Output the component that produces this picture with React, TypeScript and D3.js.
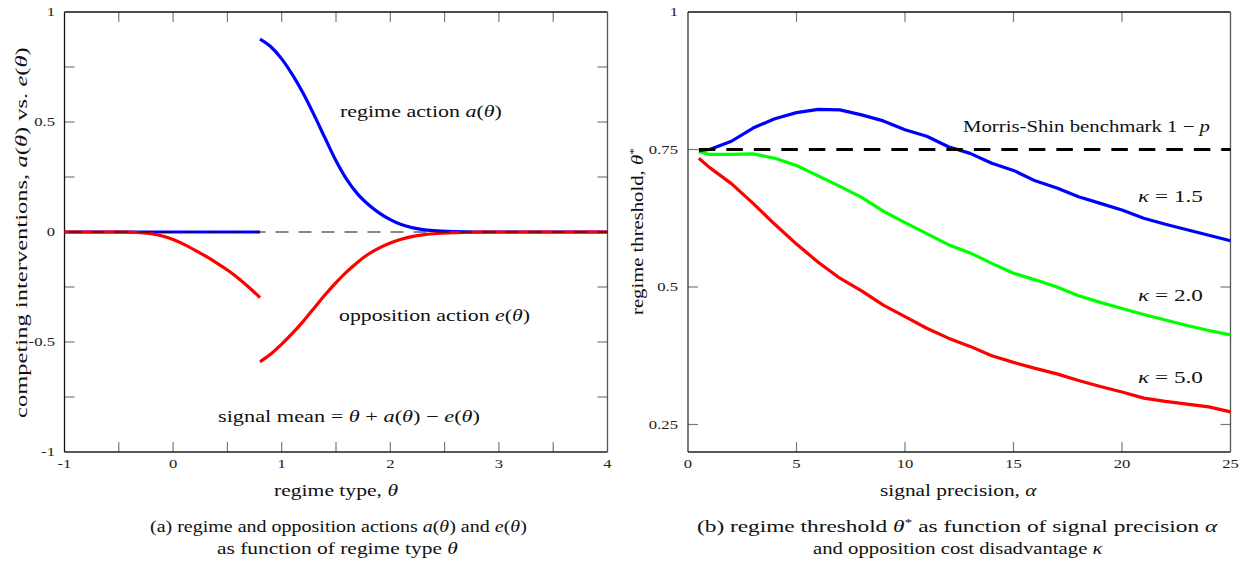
import React, { useRef, useState, useLayoutEffect } from "react";
import * as d3 from "d3";

// ---------- data: panel (a) ----------
const thetaPre = [-1, -0.9, -0.8, -0.7, -0.6, -0.5, -0.4, -0.3, -0.2, -0.1, 0, 0.1, 0.2, 0.3, 0.4, 0.5, 0.6, 0.7, 0.8];
const aPre = [0, 0, 0, 0, 0, 0, 0, 0, 0, 0, 0, 0, 0, 0, 0, 0, 0, 0, 0];
const ePre = [0, 0, 0, 0, 0, 0, -0.001, -0.003, -0.008, -0.018, -0.034, -0.056, -0.082, -0.11, -0.14, -0.173, -0.21, -0.252, -0.298];

const thetaPost = [0.8, 0.9, 1.0, 1.1, 1.2, 1.3, 1.4, 1.5, 1.6, 1.7, 1.8, 1.9, 2.0, 2.1, 2.2, 2.3, 2.4, 2.6, 2.8, 3.0, 4.0];
const aPost = [0.877, 0.842, 0.787, 0.714, 0.628, 0.53, 0.426, 0.324, 0.238, 0.172, 0.124, 0.086, 0.056, 0.034, 0.02, 0.011, 0.006, 0.0015, 0, 0, 0];
const ePost = [-0.59, -0.555, -0.51, -0.46, -0.405, -0.345, -0.285, -0.23, -0.18, -0.137, -0.1, -0.072, -0.05, -0.033, -0.021, -0.013, -0.008, -0.003, -0.001, 0, 0];

const thetaTicks = [-1, -0.5, 0, 0.5, 1, 1.5, 2, 2.5, 3, 3.5, 4];
const thetaLabels = [-1, 0, 1, 2, 3, 4];
const actTicks = [-1, -0.75, -0.5, -0.25, 0, 0.25, 0.5, 0.75, 1];
const actLabels = ["-1", "-0.5", "0", "0.5", "1"];

// ---------- data: panel (b) ----------
const alpha = [0.5, 1, 2, 3, 4, 5, 6, 7, 8, 9, 10, 11, 12, 13, 14, 15, 16, 17, 18, 19, 20, 21, 22, 23, 24, 25];
const kappa15 = [0.748, 0.75, 0.765, 0.789, 0.806, 0.817, 0.823, 0.822, 0.813, 0.802, 0.786, 0.774, 0.755, 0.743, 0.725, 0.712, 0.693, 0.68, 0.664, 0.652, 0.64, 0.625, 0.614, 0.604, 0.594, 0.584];
const kappa20 = [0.746, 0.741, 0.741, 0.742, 0.734, 0.721, 0.702, 0.683, 0.663, 0.638, 0.617, 0.597, 0.577, 0.562, 0.543, 0.525, 0.513, 0.5, 0.484, 0.472, 0.461, 0.45, 0.44, 0.43, 0.421, 0.413];
const kappa50 = [0.734, 0.717, 0.688, 0.652, 0.614, 0.578, 0.545, 0.516, 0.493, 0.467, 0.446, 0.425, 0.407, 0.392, 0.375, 0.363, 0.352, 0.342, 0.33, 0.319, 0.309, 0.298, 0.292, 0.287, 0.282, 0.273];
const benchmark = 0.75;
const alphaTicks = [5, 10, 15, 20];
const alphaLabels = [0, 5, 10, 15, 20, 25];
const threshTicks = [0.25, 0.5, 0.75];
const threshLabels = ["0.25", "0.5", "0.75", "1"];

const FONT = "Liberation Serif, DejaVu Serif, serif";

function FitText({ x, y, w, rot = 0, size = 16, children }: any) {
  const ref = useRef<SVGTextElement>(null);
  const [s, setS] = useState(1);
  useLayoutEffect(() => {
    if (ref.current) {
      const bw = ref.current.getBBox().width;
      if (bw > 0) setS(w / bw);
    }
  }, []);
  return (
    <g transform={`translate(${x},${y}) rotate(${rot}) scale(${s},1)`}>
      <text ref={ref} x={0} y={0} textAnchor="start" fontSize={size} style={{ fontFamily: FONT }} fill="#111">
        {children}
      </text>
    </g>
  );
}

const I = ({ children }: any) => <tspan fontStyle="italic">{children}</tspan>;

const TICK = "#7a7a7a";
const TL = 10;

export default function App() {
  // panel (a)
  const ax = d3.scaleLinear().domain([-1, 4]).range([64.5, 607.5]);
  const ay = d3.scaleLinear().domain([-1, 1]).range([452, 12]);
  const aLine = d3.line<[number, number]>().x((d) => ax(d[0])).y((d) => ay(d[1])).curve(d3.curveMonotoneX);
  const zip = (xs: number[], ys: number[]) => xs.map((v, i) => [v, ys[i]] as [number, number]);

  // panel (b)
  const bx = d3.scaleLinear().domain([0, 25]).range([688, 1230.5]);
  const by = d3.scaleLinear().domain([0.2, 1]).range([452, 12]);
  const bLine = d3.line<[number, number]>().x((d) => bx(d[0])).y((d) => by(d[1]));

  const tickLabel = (x: number, y: number, t: string, anchor: string) => (
    <g key={`${x}-${y}-${t}`} transform={`translate(${x},${y}) scale(1.45,1)`}>
      <text textAnchor={anchor as any} fontSize={11.5} style={{ fontFamily: FONT }} fill="#222">{t}</text>
    </g>
  );

  return (
    <svg width={1242} height={565} style={{ position: "absolute", left: 0, top: 0, background: "#fff" }}>
      {/* ===== Panel (a) ===== */}
      <g>
        {thetaTicks.filter((t) => t > -1 && t < 4).map((t) => (
          <g key={"atx" + t} stroke={TICK} strokeWidth={1.2}>
            <line x1={ax(t)} x2={ax(t)} y1={ay(-1)} y2={ay(-1) - TL} />
            <line x1={ax(t)} x2={ax(t)} y1={ay(1)} y2={ay(1) + TL} />
          </g>
        ))}
        {actTicks.filter((t) => t > -1 && t < 1).map((t) => (
          <g key={"aty" + t} stroke={TICK} strokeWidth={1.2}>
            <line x1={ax(-1)} x2={ax(-1) + TL} y1={ay(t)} y2={ay(t)} />
            <line x1={ax(4)} x2={ax(4) - TL} y1={ay(t)} y2={ay(t)} />
          </g>
        ))}
        <line x1={ax(-1)} x2={ax(4)} y1={ay(1)} y2={ay(1)} stroke="#111" strokeWidth={1.3} />
        <line x1={ax(-1)} x2={ax(4)} y1={ay(-1)} y2={ay(-1)} stroke="#222" strokeWidth={1.3} />
        <line x1={ax(-1)} x2={ax(-1)} y1={ay(1)} y2={ay(-1)} stroke="#111" strokeWidth={1.3} />
        <line x1={ax(4)} x2={ax(4)} y1={ay(1)} y2={ay(-1)} stroke="#555" strokeWidth={1.3} />

        <path d={aLine(zip(thetaPre, aPre)) || ""} fill="none" stroke="#0000ff" strokeWidth={3.2} />
        <path d={aLine(zip(thetaPost, aPost)) || ""} fill="none" stroke="#0000ff" strokeWidth={3.2} />
        <path d={aLine(zip(thetaPre, ePre)) || ""} fill="none" stroke="#ff0000" strokeWidth={3.2} />
        <path d={aLine(zip(thetaPost, ePost)) || ""} fill="none" stroke="#ff0000" strokeWidth={3.2} />
        <line x1={ax(-1)} x2={ax(4)} y1={ay(0)} y2={ay(0)} stroke="#111" strokeWidth={1.2} strokeDasharray="13 10" strokeDashoffset={-4} />

        {thetaLabels.map((t) => tickLabel(ax(t), 468, String(t), "middle"))}
        {actLabels.map((t) => tickLabel(55, ay(+t) + 4, t, "end"))}

        <FitText x={340} y={117} w={162} size={16.5}>regime action <I>a</I>(<I>θ</I>)</FitText>
        <FitText x={339} y={321} w={191} size={16.5}>opposition action <I>e</I>(<I>θ</I>)</FitText>
        <FitText x={218} y={422} w={262} size={16.5}>signal mean = <I>θ</I> + <I>a</I>(<I>θ</I>) − <I>e</I>(<I>θ</I>)</FitText>

        <FitText x={274} y={496} w={124} size={16.5}>regime type, <I>θ</I></FitText>
        <FitText x={26.5} y={418} w={371} rot={-90} size={16.5}>competing interventions, <I>a</I>(<I>θ</I>) vs. <I>e</I>(<I>θ</I>)</FitText>

        <FitText x={150} y={532} w={377} size={16.5}>(a) regime and opposition actions <I>a</I>(<I>θ</I>) and <I>e</I>(<I>θ</I>)</FitText>
        <FitText x={217} y={554} w={241} size={16.5}>as function of regime type <I>θ</I></FitText>
      </g>

      {/* ===== Panel (b) ===== */}
      <g>
        {alphaTicks.map((t) => (
          <g key={"btx" + t} stroke={TICK} strokeWidth={1.2}>
            <line x1={bx(t)} x2={bx(t)} y1={by(0.2)} y2={by(0.2) - TL} />
            <line x1={bx(t)} x2={bx(t)} y1={by(1)} y2={by(1) + TL} />
          </g>
        ))}
        {threshTicks.map((t) => (
          <g key={"bty" + t} stroke={TICK} strokeWidth={1.2}>
            <line x1={bx(0)} x2={bx(0) + TL} y1={by(t)} y2={by(t)} />
            <line x1={bx(25)} x2={bx(25) - TL} y1={by(t)} y2={by(t)} />
          </g>
        ))}
        <line x1={bx(0)} x2={bx(25)} y1={by(1)} y2={by(1)} stroke="#111" strokeWidth={1.3} />
        <line x1={bx(0)} x2={bx(25)} y1={by(0.2)} y2={by(0.2)} stroke="#222" strokeWidth={1.3} />
        <line x1={bx(0)} x2={bx(0)} y1={by(1)} y2={by(0.2)} stroke="#333" strokeWidth={1.3} />
        <line x1={bx(25)} x2={bx(25)} y1={by(1)} y2={by(0.2)} stroke="#555" strokeWidth={1.3} />

        <path d={bLine(zip(alpha, kappa50)) || ""} fill="none" stroke="#ff0000" strokeWidth={3.2} strokeLinejoin="round" />
        <path d={bLine(zip(alpha, kappa20)) || ""} fill="none" stroke="#00ff00" strokeWidth={3.2} strokeLinejoin="round" />
        <path d={bLine(zip(alpha, kappa15)) || ""} fill="none" stroke="#0000ff" strokeWidth={3.2} strokeLinejoin="round" />
        <line x1={bx(alpha[0])} x2={bx(25)} y1={by(benchmark)} y2={by(benchmark)} stroke="#000" strokeWidth={3} strokeDasharray="16.5 11" />

        {alphaLabels.map((t) => tickLabel(bx(t), 468, String(t), "middle"))}
        {threshLabels.map((t) => tickLabel(678, by(+t) + 4, t, "end"))}

        <FitText x={963} y={132} w={247} size={16.5}>Morris-Shin benchmark 1 − <I>p</I></FitText>
        <FitText x={1138} y={202} w={65} size={16.5}><I>κ</I> = 1.5</FitText>
        <FitText x={1138} y={301} w={65} size={16.5}><I>κ</I> = 2.0</FitText>
        <FitText x={1138} y={383} w={65} size={16.5}><I>κ</I> = 5.0</FitText>

        <FitText x={880} y={496} w={157} size={16.5}>signal precision, <I>α</I></FitText>
        <FitText x={643} y={315} w={167} rot={-90} size={16.5}>regime threshold, <I>θ</I><tspan dy={-6} fontSize={11}>*</tspan></FitText>

        <FitText x={697} y={532} w={521} size={16.5}>(b) regime threshold <I>θ</I><tspan dy={-6} fontSize={11}>*</tspan><tspan dy={6}> as function of signal precision </tspan><I>α</I></FitText>
        <FitText x={813} y={554} w={291} size={16.5}>and opposition cost disadvantage <I>κ</I></FitText>
      </g>
    </svg>
  );
}
